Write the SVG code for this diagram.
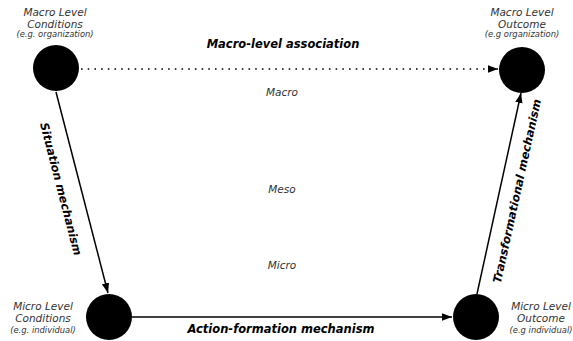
<svg xmlns="http://www.w3.org/2000/svg" width="573" height="341" viewBox="0 0 573 341">
<style>
.bg{fill:#fff}
.node{fill:#000}
.lbl{font-family:"DejaVu Sans",Verdana,sans-serif;font-style:italic;fill:#333;text-anchor:middle}
.t1{font-size:10.5px}
.t2{font-size:8.4px}
.lvl{font-family:"DejaVu Sans",Verdana,sans-serif;font-style:italic;font-size:10.5px;fill:#333;text-anchor:middle}
.mech{font-family:"DejaVu Sans",Verdana,sans-serif;font-style:italic;font-weight:bold;font-size:11.5px;fill:#000;text-anchor:middle}
.line{stroke:#000;stroke-width:1.5;fill:none}
.dot{stroke:#000;stroke-width:1.6;fill:none;stroke-dasharray:1.6 5.1}
</style>
<defs>
<marker id="arr" markerUnits="userSpaceOnUse" markerWidth="12" markerHeight="10" viewBox="0 0 12 10" refX="10" refY="5" orient="auto">
<path d="M0,1.3 L10,5 L0,8.7 Z" fill="#000"/>
</marker>
</defs>
<rect class="bg" x="0" y="0" width="573" height="341"/>
<g id="connectors">
<line class="dot" x1="81" y1="69" x2="498" y2="69" marker-end="url(#arr)"/>
<line class="line" x1="56" y1="92" x2="108" y2="293" marker-end="url(#arr)"/>
<line class="line" x1="132" y1="317" x2="452" y2="317" marker-end="url(#arr)"/>
<line class="line" x1="477" y1="294" x2="521" y2="93" marker-end="url(#arr)"/>
<text class="mech" x="283" y="48">Macro-level association</text>
<text class="mech" x="281" y="333">Action-formation mechanism</text>
<text class="mech" transform="translate(61,189) rotate(75.5)" x="0" y="4">Situation mechanism</text>
<text class="mech" transform="translate(517,191) rotate(-77.6)" x="0" y="4">Transformational mechanism</text>
</g>
<g id="levels">
<text class="lvl" x="282" y="96">Macro</text>
<text class="lvl" x="282" y="193">Meso</text>
<text class="lvl" x="282" y="269">Micro</text>
</g>
<g id="macro-conditions">
<circle class="node" cx="56" cy="68" r="23"/>
<text class="lbl t1" x="55" y="16">Macro Level</text>
<text class="lbl t1" x="55" y="28">Conditions</text>
<text class="lbl t2" x="55" y="37">(e.g. organization)</text>
</g>
<g id="macro-outcome">
<circle class="node" cx="522" cy="70" r="23"/>
<text class="lbl t1" x="522" y="16">Macro Level</text>
<text class="lbl t1" x="522" y="28">Outcome</text>
<text class="lbl t2" x="522" y="37">(e.g organization)</text>
</g>
<g id="micro-conditions">
<circle class="node" cx="109" cy="317" r="23"/>
<text class="lbl t1" x="43" y="310">Micro Level</text>
<text class="lbl t1" x="43" y="322">Conditions</text>
<text class="lbl t2" x="43" y="333">(e.g. individual)</text>
</g>
<g id="micro-outcome">
<circle class="node" cx="476" cy="317" r="23"/>
<text class="lbl t1" x="541" y="310">Micro Level</text>
<text class="lbl t1" x="541" y="322">Outcome</text>
<text class="lbl t2" x="541" y="333">(e.g individual)</text>
</g>
</svg>
